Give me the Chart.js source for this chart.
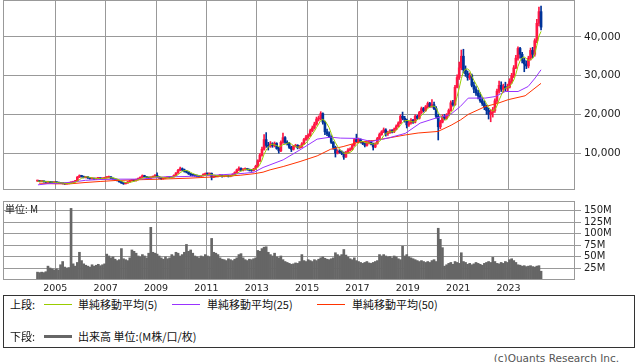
<!DOCTYPE html>
<html lang="ja">
<head>
<meta charset="utf-8">
<script src="https://cdn.jsdelivr.net/npm/chart.js@4.4.1/dist/chart.umd.min.js"></script>
<style>
  html, body { margin: 0; padding: 0; background: #fff; }
  body { width: 638px; height: 362px; position: relative; overflow: hidden;
         font-family: "Noto Sans CJK JP", "DejaVu Sans", sans-serif; }
  #cPrice { position: absolute; left: 0; top: 0; }
  #cVol { position: absolute; left: 0; top: 195px; }
  #unit { position: absolute; left: 5px; top: 202px; font-size: 10px; line-height: 14px; color: #222; }
  #legend { position: absolute; left: 3px; top: 295px; width: 632px; height: 53px;
            box-sizing: border-box; border: 1px solid #333; font-size: 11px; color: #111; }
  .lg { position: absolute; white-space: nowrap; line-height: 14px; }
  .ln { position: absolute; height: 1px; }
  #copy { position: absolute; right: 19px; top: 351px; font-size: 10.5px; line-height: 14px;
          color: #555; font-family: "DejaVu Sans", sans-serif; }
</style>
</head>
<body>
<canvas id="cPrice" width="638" height="192"></canvas>
<canvas id="cVol" width="638" height="100"></canvas>
<div id="unit">単位: M</div>

<div id="legend">
  <span class="lg" style="left:6px;top:1px">上段:</span>
  <span class="ln" style="left:40px;top:8px;width:28px;background:#99cc00"></span>
  <span class="lg" style="left:74px;top:1px">単純移動平均(5)</span>
  <span class="ln" style="left:168px;top:8px;width:28px;background:#9933ff"></span>
  <span class="lg" style="left:203px;top:1px">単純移動平均(25)</span>
  <span class="ln" style="left:313px;top:8px;width:28px;background:#ff3300"></span>
  <span class="lg" style="left:348px;top:1px">単純移動平均(50)</span>

  <span class="lg" style="left:6px;top:33px">下段:</span>
  <span class="ln" style="left:40px;top:39px;width:28px;height:3px;background:#666"></span>
  <span class="lg" style="left:74px;top:33px">出来高 単位:(M株/口/枚)</span>
</div>
<div id="copy">(c)Quants Research Inc.</div>

<script>
// 月足: 2004年4月 〜 2024年4月
const startYear = 2004;
const startMonth = 4;

const tickYears = [2005, 2007, 2009, 2011, 2013, 2015, 2017, 2019, 2021, 2023];
const priceTicks = [10000, 20000, 30000, 40000];
const volTicks = [25, 50, 75, 100, 125, 150];

const opens = [
  2800, 2900, 2700, 2800, 2600, 2500, 2600, 2450, 2400,
  2500, 2400, 2300, 2200, 2150, 2050, 2150, 2300, 2500, 2600, 2900, 3800,
  4200, 4000, 3700, 3900, 3600, 3400, 3500, 3300, 3500, 3600, 3400, 3500,
  3700, 3700, 3900, 3500, 3300, 3100, 2900, 2600, 2300, 2100, 2300, 2600,
  2900, 3000, 2900, 3200, 3500, 3800, 4200, 3900, 3700, 3600, 3800, 4000,
  4300, 3900, 3600, 3400, 3500, 3700, 3800, 3700, 3900, 4300, 4900, 5600,
  6000, 5700, 5300, 5100, 4700, 4400, 4300, 4200, 4100, 4000, 4200, 4500,
  4700, 4600, 4800, 3800, 4100, 4000, 4200, 4300, 4000, 4100, 4200, 4000,
  4200, 4500, 5000, 5700, 6100, 5600, 5800, 6000, 5800, 5600, 5500, 5900,
  6600, 8000, 9500, 11000, 13500, 12000, 11800, 12400, 11900, 12500, 11200, 10600,
  12800, 14000, 12800, 12500, 11500, 11000, 11800, 12000, 11400, 11700, 12400, 13500,
  14200, 14500, 15800, 16500, 17500, 18800, 19000, 20200, 18000, 15500, 15000, 14200,
  12800, 11500, 10000, 10500, 10300, 10000, 9000, 10200, 10800, 11000, 12000, 13500,
  13000, 13500, 12800, 12500, 12000, 12600, 13000, 12400, 11600, 12500, 13800, 14800,
  15500, 16000, 15000, 15300, 15800, 15500, 16200, 17000, 17800, 19500, 19000, 18500,
  17300, 17800, 18500, 18000, 19500, 19000, 20500, 21500, 21000, 22000, 22800, 22000,
  22500, 21500, 19500, 16800, 18000, 19500, 19000, 19800, 21000, 23000, 22500, 27000,
  29500, 32000, 35000, 31500, 30500, 29500, 30000, 27500, 26500, 25500, 24800, 23500,
  22800, 21800, 21000, 20000, 20500, 21000, 23500, 26000, 27500, 26500, 27200, 26800,
  27000, 28500, 30000, 32000, 34500, 37000, 35500, 34000, 33000, 32500, 34500, 36500,
  35500, 39000, 43500, 46500
];

const highs = [
  3050, 2950, 2850, 2850, 2650, 2700, 2650, 2500, 2600,
  2600, 2450, 2350, 2250, 2200, 2200, 2350, 2600, 2700, 3000, 4000, 4400,
  4300, 4100, 4000, 3950, 3700, 3600, 3550, 3600, 3700, 3650, 3600, 3800,
  3900, 4100, 3950, 3600, 3400, 3200, 3000, 2700, 2400, 2400, 2700, 3000,
  3200, 3100, 3300, 3600, 3900, 4400, 4300, 4000, 3800, 3900, 4100, 4500,
  4900, 4000, 3700, 3600, 3800, 3900, 3900, 4000, 4400, 5000, 5800, 6400,
  6200, 5900, 5500, 5200, 4800, 4500, 4400, 4300, 4200, 4300, 4700, 4900,
  4900, 4900, 4900, 4200, 4200, 4300, 4500, 4400, 4200, 4300, 4300, 4300,
  4700, 5200, 5900, 6500, 6200, 6000, 6200, 6100, 5900, 5800, 6100, 6900,
  8300, 9900, 11600, 14800, 15300, 12800, 13000, 12700, 12900, 12700, 11500, 13200,
  15200, 14300, 13200, 12800, 11800, 12000, 12300, 12200, 12000, 12700, 13800, 14600,
  15000, 16200, 17000, 18000, 19300, 19600, 20700, 20400, 18300, 16200, 15500, 14500,
  13000, 11800, 10900, 10900, 10600, 10300, 10500, 11200, 11400, 12300, 13800, 14900,
  13900, 13700, 13000, 12700, 12900, 13300, 13200, 12600, 12700, 14100, 15200, 15800,
  16500, 16300, 15600, 16100, 16100, 16500, 17300, 18100, 19900, 20600, 19500, 18800,
  18200, 18900, 18700, 19900, 19800, 20800, 21900, 21800, 22300, 23200, 23100, 23800,
  23200, 22000, 20000, 18500, 19900, 20000, 20200, 21400, 23500, 23600, 27500, 30200,
  33500, 36600, 36800, 32500, 31200, 30700, 30400, 28300, 27200, 26200, 25600, 24300,
  23500, 22400, 21600, 21200, 21800, 24000, 26500, 28600, 28400, 27800, 28300, 27800,
  29200, 30600, 32600, 35200, 37400, 37300, 36000, 34500, 33800, 35000, 37100, 37300,
  39500, 44500, 47700, 47900
];

const lows = [
  2700, 2650, 2650, 2550, 2450, 2450, 2400, 2350, 2350,
  2350, 2250, 2150, 2050, 1950, 2000, 2100, 2250, 2400, 2550, 2850, 3700,
  3800, 3600, 3600, 3500, 3300, 3300, 3200, 3250, 3400, 3300, 3300, 3400,
  3500, 3600, 3400, 3200, 3000, 2800, 2500, 2200, 1950, 2050, 2250, 2500,
  2800, 2800, 2800, 3100, 3400, 3700, 3800, 3600, 3400, 3400, 3700, 3900,
  3800, 3500, 3200, 3300, 3400, 3600, 3600, 3600, 3800, 4200, 4800, 5400,
  5500, 5100, 4900, 4500, 4200, 4100, 4000, 3900, 3800, 3900, 4100, 4400,
  4400, 4500, 3100, 3700, 3900, 3900, 4100, 3800, 3900, 4000, 3850, 3900,
  4100, 4400, 4900, 5500, 5400, 5400, 5600, 5600, 5400, 5300, 5400, 5800,
  6400, 7800, 9200, 10800, 11500, 10800, 11500, 11500, 11600, 11000, 10000, 10400,
  12500, 12500, 12100, 11200, 10400, 10800, 11600, 11100, 11200, 11400, 12200, 13300,
  13800, 14300, 15500, 16200, 17200, 18300, 18600, 17500, 14800, 14500, 14000, 12500,
  11000, 9000, 9800, 10000, 9600, 8400, 8900, 10000, 10600, 10800, 11800, 12800,
  12700, 12600, 12200, 11600, 11800, 12400, 12100, 10800, 11400, 12300, 13600, 14600,
  15300, 14400, 14600, 15100, 15200, 15300, 16000, 16800, 17600, 18600, 18000, 16500,
  16900, 17500, 17700, 17800, 18700, 18800, 20200, 20600, 20800, 21700, 21800, 21800,
  21200, 19000, 13400, 16300, 17800, 18600, 18800, 19600, 20800, 22100, 22300, 26800,
  29000, 31500, 30700, 29800, 28800, 29000, 27100, 25600, 24900, 24000, 23100, 22300,
  21200, 20000, 18800, 18100, 19300, 20500, 23000, 25500, 25900, 25800, 26000, 26000,
  26800, 28000, 29500, 31800, 34000, 34500, 33300, 31000, 31800, 32000, 34000, 34600,
  35000, 38500, 42800, 41800
];

const closes = [
  2900, 2700, 2800, 2600, 2500, 2600, 2450, 2400, 2500,
  2400, 2300, 2200, 2150, 2050, 2150, 2300, 2500, 2600, 2900, 3800, 4200,
  4000, 3700, 3900, 3600, 3400, 3500, 3300, 3500, 3600, 3400, 3500, 3700,
  3700, 3900, 3500, 3300, 3100, 2900, 2600, 2300, 2100, 2300, 2600, 2900,
  3000, 2900, 3200, 3500, 3800, 4200, 3900, 3700, 3600, 3800, 4000, 4300,
  3900, 3600, 3400, 3500, 3700, 3800, 3700, 3900, 4300, 4900, 5600, 6000,
  5700, 5300, 5100, 4700, 4400, 4300, 4200, 4100, 4000, 4200, 4500, 4700,
  4600, 4800, 3800, 4100, 4000, 4200, 4300, 4000, 4100, 4200, 4000, 4200,
  4500, 5000, 5700, 6100, 5600, 5800, 6000, 5800, 5600, 5500, 5900, 6600,
  8000, 9500, 11000, 13500, 12000, 11800, 12400, 11900, 12500, 11200, 10600, 12800,
  14000, 12800, 12500, 11500, 11000, 11800, 12000, 11400, 11700, 12400, 13500, 14200,
  14500, 15800, 16500, 17500, 18800, 19000, 20200, 18000, 15500, 15000, 14200, 12800,
  11500, 10000, 10500, 10300, 10000, 9000, 10200, 10800, 11000, 12000, 13500, 13000,
  13500, 12800, 12500, 12000, 12600, 13000, 12400, 11600, 12500, 13800, 14800, 15500,
  16000, 15000, 15300, 15800, 15500, 16200, 17000, 17800, 19500, 19000, 18500, 17300,
  17800, 18500, 18000, 19500, 19000, 20500, 21500, 21000, 22000, 22800, 22000, 22500,
  21500, 19500, 16800, 18000, 19500, 19000, 19800, 21000, 23000, 22500, 27000, 29500,
  32000, 35000, 31500, 30500, 29500, 30000, 27500, 26500, 25500, 24800, 23500, 22800,
  21800, 21000, 20000, 20500, 21000, 23500, 26000, 27500, 26500, 27200, 26800, 27000,
  28500, 30000, 32000, 34500, 37000, 35500, 34000, 33000, 32500, 34500, 36500, 35500,
  39000, 43500, 46500, 42500
];

// 出来高 (M)
const volumes = [
  17, 16, 17, 16, 18, 30, 26, 24, 22,
  24, 22, 33, 40, 28, 26, 27, 155, 35, 30, 38, 60,
  42, 35, 32, 30, 28, 33, 30, 32, 34, 31, 33, 35,
  56, 52, 48, 50, 45, 42, 44, 68, 46, 44, 42, 48,
  65, 62, 58, 52, 50, 55, 52, 48, 58, 114, 60, 58,
  56, 52, 48, 45, 50, 46, 48, 55, 52, 60, 58, 52,
  55, 60, 77, 62, 65, 58, 52, 50, 48, 52, 50, 55,
  52, 50, 90, 60, 58, 55, 48, 45, 44, 42, 46, 44,
  42, 45, 48, 55, 57, 48, 44, 42, 45, 44, 46, 48,
  64, 62, 68, 71, 72, 60, 55, 52, 58, 50, 48, 52,
  44, 40, 38, 36, 34, 35, 37, 36, 40, 55, 42, 40,
  44, 42, 40, 44, 42, 45, 48, 50, 47, 45, 44, 46,
  48, 59, 55, 52, 55, 66, 54, 50, 46, 44, 48, 42,
  40, 38, 36, 38, 40, 37, 36, 38, 40, 42, 55, 52,
  55, 52, 50, 51, 48, 52, 50, 46, 44, 73, 52, 55,
  50, 48, 46, 44, 42, 40, 42, 40, 38, 40, 38, 42,
  44, 40, 112, 88, 70, 30, 33, 36, 38, 34, 40, 38,
  36, 59, 40, 38, 34, 36, 33, 35, 38, 36, 34, 32,
  36, 38, 40, 38, 49, 40, 36, 35, 38, 36, 40, 38,
  44, 46, 42, 38, 33, 32, 30, 31, 29, 30, 31, 29,
  28, 30, 31, 19
];

// 単純移動平均(5) 月ごと
const ma5 = [
  2750, 2750, 2780, 2740, 2700, 2640, 2590, 2510, 2490,
  2470, 2410, 2360, 2310, 2220, 2170, 2170, 2230, 2320, 2490, 2820, 3200,
  3500, 3720, 3920, 3880, 3720, 3620, 3540, 3460, 3460, 3460, 3460, 3540,
  3580, 3640, 3660, 3620, 3500, 3340, 3080, 2840, 2600, 2440, 2380, 2440,
  2580, 2740, 2920, 3100, 3280, 3520, 3720, 3820, 3840, 3840, 3800, 3880,
  3920, 3920, 3840, 3740, 3620, 3600, 3620, 3720, 3880, 4120, 4480, 4940,
  5300, 5500, 5540, 5360, 5040, 4760, 4540, 4340, 4200, 4160, 4200, 4300,
  4400, 4560, 4480, 4400, 4260, 4180, 4080, 4120, 4120, 4160, 4120, 4100,
  4200, 4380, 4680, 5100, 5380, 5640, 5840, 5860, 5760, 5740, 5760, 5880,
  6320, 7100, 8200, 9720, 10800, 11560, 12140, 12320, 12120, 11960, 11720, 11800,
  12220, 12280, 12540, 12720, 12360, 11920, 11760, 11540, 11580, 11860, 12200, 12640,
  13260, 14080, 14900, 15700, 16620, 17520, 18400, 18700, 18300, 17540, 16580, 15100,
  13800, 12700, 11800, 11020, 10460, 9960, 10000, 10060, 10200, 10600, 11500, 12060,
  12600, 12960, 13060, 12760, 12680, 12580, 12500, 12320, 12420, 12660, 13020, 13640,
  14520, 15020, 15320, 15520, 15520, 15560, 15960, 16460, 17200, 17900, 18360, 18420,
  18420, 18220, 18020, 18220, 18560, 19100, 19700, 20300, 20800, 21560, 21860, 22060,
  22160, 21660, 20460, 19660, 19060, 18560, 18620, 19460, 20460, 21060, 22660, 24600,
  26800, 29200, 31000, 31700, 31700, 31300, 29800, 28800, 27800, 26860, 25560, 24620,
  23680, 22780, 21820, 21220, 20860, 21200, 22200, 23700, 24900, 26140, 26800, 27000,
  27200, 27900, 28860, 30400, 32400, 33800, 34600, 34800, 34400, 33900, 34100, 34400,
  35600, 37800, 40200, 41400
];

// 単純移動平均(25) / (50) — 読み取り点
const ma25Years = [2004.31, 2004.67, 2005.19, 2005.66, 2006.2, 2006.78, 2007.57, 2008.37, 2008.96,
  2009.36, 2010.15, 2011.54, 2012.5, 2012.9, 2013.25, 2014.05, 2014.72, 2015.4, 2015.93, 2016.32,
  2017.03, 2017.54, 2018.22, 2018.9, 2019.49, 2020.09, 2020.68, 2021.08, 2021.4, 2022.07, 2022.47,
  2022.87, 2023.38, 2023.78, 2024.06, 2024.29];
const ma25Values = [1830, 2090, 2270, 2530, 3000, 3200, 3300, 3300, 3650,
  3900, 3970, 4400, 4800, 5100, 6300, 8280, 10860, 13620, 14140, 13880,
  13800, 13000, 13900, 15100, 17750, 19000, 19900, 22000, 24200, 24200, 24600,
  25900, 25900, 27200, 29400, 31500];

const ma50Years = [2004.35, 2004.99, 2005.58, 2006.18, 2006.78, 2007.37, 2008.17, 2009.16, 2010.35,
  2011.34, 2012.34, 2012.9, 2013.25, 2013.53, 2014.05, 2014.72, 2015.4, 2015.93, 2016.43, 2017.03,
  2017.7, 2018.9, 2019.41, 2020.2, 2020.72, 2021.1, 2021.4, 2022.07, 2022.59, 2022.99, 2023.66, 2024.29];
const ma50Values = [2270, 2090, 2090, 2430, 2700, 2940, 3120, 3300, 3560,
  3900, 4300, 4700, 5100, 5700, 6550, 7840, 9300, 11000, 11700, 12800,
  13300, 14700, 15200, 15600, 17200, 18600, 20000, 22000, 22900, 23800, 24800, 28000];

(function () {
  const UP = "#ff1744", DOWN = "#003399", GRID = "#999";
  const X_MIN = 2002.922, X_MAX = 2025.64;

  const monthX = closes.map((_, i) => startYear + (startMonth - 1 + i + 0.5) / 12);
  const candleColors = closes.map((c, i) => (c >= opens[i] ? UP : DOWN));

  const framePlugin = {
    id: "frame",
    afterDraw(chart) {
      const { ctx, chartArea: a } = chart;
      ctx.save();
      ctx.strokeStyle = GRID;
      ctx.lineWidth = 1;
      ctx.strokeRect(Math.round(a.left) + 0.5, Math.round(a.top) + 0.5,
        Math.round(a.right - a.left) - 1, Math.round(a.bottom - a.top) - 1);
      ctx.restore();
    }
  };

  // ラベル分の余白を消して描画領域を固定する
  const noPad = s => { s.paddingTop = 0; s.paddingBottom = 0; s.paddingLeft = 0; s.paddingRight = 0; };

  const xAxis = (showLabels) => ({
    type: "linear",
    offset: false,
    min: X_MIN,
    max: X_MAX,
    afterBuildTicks: s => { s.ticks = tickYears.map(v => ({ value: v })); },
    afterFit: s => { s.height = showLabels ? 15 : 0; noPad(s); },
    grid: { color: GRID, lineWidth: 1, drawTicks: false, offset: false },
    border: { display: false },
    ticks: {
      display: showLabels,
      autoSkip: false,
      maxRotation: 0,
      padding: 3,
      color: "#222",
      font: { family: "DejaVu Sans", size: 9.5 },
      callback: v => String(v)
    }
  });

  const yAxis = (min, max, ticksArr, fontSize, fmt) => ({
    position: "right",
    min,
    max,
    afterBuildTicks: s => { s.ticks = ticksArr.map(v => ({ value: v })); },
    afterFit: s => { s.width = 63; noPad(s); },
    grid: { color: GRID, lineWidth: 1, tickLength: 6 },
    border: { display: false },
    ticks: {
      padding: 3,
      color: "#222",
      font: { family: "DejaVu Sans", size: fontSize },
      callback: fmt
    }
  });

  const lineDs = (data, color) => ({
    type: "line",
    data,
    borderColor: color,
    borderWidth: 1,
    pointRadius: 0,
    tension: 0,
    order: 0
  });

  new Chart(document.getElementById("cPrice"), {
    data: {
      datasets: [
        lineDs(ma5.map((v, i) => ({ x: monthX[i], y: v })), "#99cc00"),
        lineDs(ma25Values.map((v, i) => ({ x: ma25Years[i], y: v })), "#9933ff"),
        lineDs(ma50Values.map((v, i) => ({ x: ma50Years[i], y: v })), "#ff3300"),
        {
          type: "bar",
          data: closes.map((c, i) => ({ x: monthX[i], y: [opens[i], c] })),
          backgroundColor: candleColors,
          barThickness: 2,
          minBarLength: 1,
          grouped: false,
          order: 1
        },
        {
          type: "bar",
          data: closes.map((c, i) => ({ x: monthX[i], y: [lows[i], highs[i]] })),
          backgroundColor: candleColors,
          barThickness: 1,
          grouped: false,
          order: 2
        }
      ]
    },
    options: {
      responsive: false,
      animation: false,
      events: [],
      layout: { padding: { left: 3, right: 0, top: 0, bottom: 2 } },
      plugins: { legend: { display: false }, tooltip: { enabled: false } },
      scales: {
        x: xAxis(false),
        y: yAxis(500, 49500, priceTicks, 10.5, v => Number(v).toLocaleString("en-US"))
      }
    },
    plugins: [framePlugin]
  });

  new Chart(document.getElementById("cVol"), {
    data: {
      datasets: [{
        type: "bar",
        data: volumes.map((v, i) => ({ x: monthX[i], y: v })),
        backgroundColor: "#666",
        barThickness: 2,
        grouped: false
      }]
    },
    options: {
      responsive: false,
      animation: false,
      events: [],
      layout: { padding: { left: 3, right: 0, top: 6, bottom: 0 } },
      plugins: { legend: { display: false }, tooltip: { enabled: false } },
      scales: {
        x: xAxis(true),
        y: yAxis(0, 171, volTicks, 10, v => v + "M")
      }
    },
    plugins: [framePlugin]
  });
})();
</script>
</body>
</html>
